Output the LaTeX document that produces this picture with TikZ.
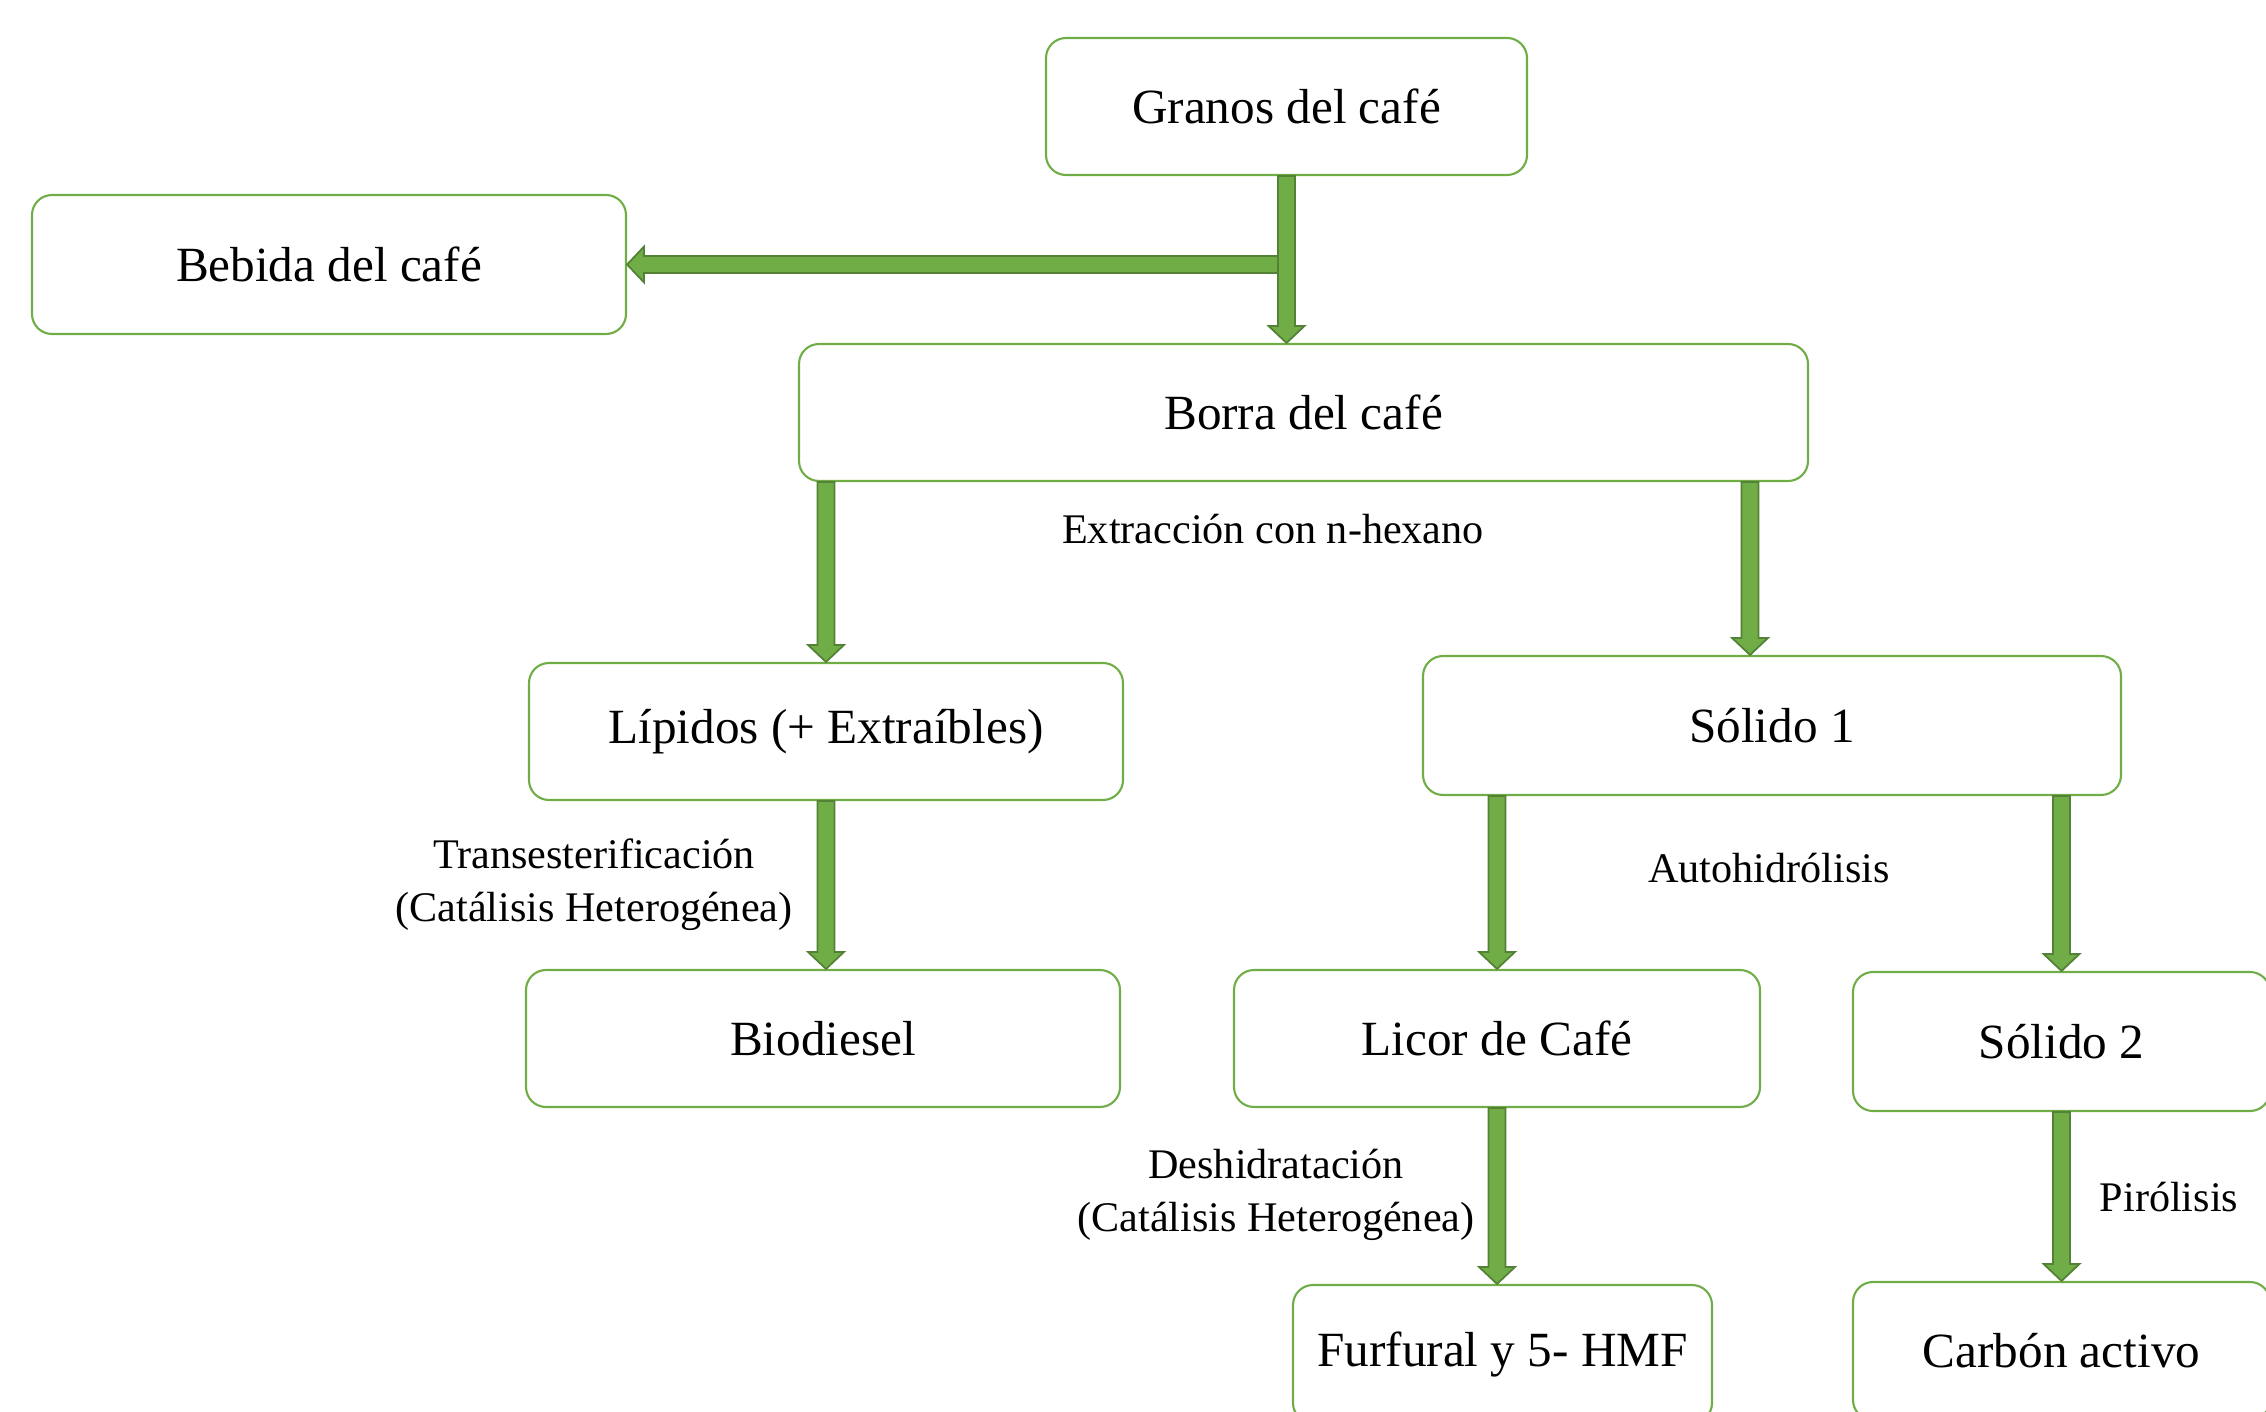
\documentclass[tikz,border=0pt]{standalone}
\usepackage{fontspec}
\setmainfont{Liberation Serif}
\usetikzlibrary{positioning, calc}

\definecolor{boxgreen}{HTML}{70AD47}
\definecolor{arrowgreen}{HTML}{70AD47}
\definecolor{arrowdark}{HTML}{538135}

\tikzset{
  box/.style={draw=boxgreen, line width=0.6pt, rounded corners=0.2cm,
    minimum height=1.37cm, inner sep=0pt, font=\fontsize{14}{17}\selectfont},
  lbl/.style={align=center, font=\fontsize{12}{15}\selectfont},
  blockarrow/.style={fill=arrowgreen, draw=arrowdark, line width=0.5pt,
    to path={
      ($(\tikztostart)!0.085cm!90:(\tikztotarget)$)
      -- ($($(\tikztotarget)!0.17cm!(\tikztostart)$)!0.085cm!-90:(\tikztostart)$)
      -- ($($(\tikztotarget)!0.17cm!(\tikztostart)$)!0.18cm!-90:(\tikztostart)$)
      -- (\tikztotarget)
      -- ($($(\tikztotarget)!0.17cm!(\tikztostart)$)!0.18cm!90:(\tikztostart)$)
      -- ($($(\tikztotarget)!0.17cm!(\tikztostart)$)!0.085cm!90:(\tikztostart)$)
      -- ($(\tikztostart)!0.085cm!-90:(\tikztotarget)$)
      -- cycle}}
}

\begin{document}
\begin{tikzpicture}
  \clip (0,0) rectangle (22.66,-14.12);

  % boxes
  \node[box, minimum width=4.81cm] (granos) at (12.865,-1.065) {Granos del café};
  \node[box, minimum width=5.94cm, minimum height=1.39cm] (bebida) at (3.29,-2.645) {Bebida del café};
  \node[box, minimum width=10.09cm] (borra) at (13.035,-4.125) {Borra del café};
  \node[box, minimum width=5.94cm] (lipidos) at (8.26,-7.315) {Lípidos (+ Extraíbles)};
  \node[box, minimum width=6.98cm, minimum height=1.39cm] (solido1) at (17.72,-7.255) {Sólido 1};
  \node[box, minimum width=5.94cm] (biodiesel) at (8.23,-10.385) {Biodiesel};
  \node[box, minimum width=5.26cm] (licor) at (14.97,-10.385) {Licor de Café};
  \node[box, minimum width=4.17cm, minimum height=1.39cm] (solido2) at (20.615,-10.415) {Sólido 2};
  \node[box, minimum width=4.19cm, minimum height=1.38cm] (furfural) at (15.025,-13.54) {Furfural y 5- HMF};
  \node[box, minimum width=4.17cm, minimum height=1.38cm] (carbon) at (20.615,-13.51) {Carbón activo};

  % labels
  \node[lbl] (extr) at (12.73,-5.29) {Extracción con n-hexano};
  \node[lbl] (trans) at (5.94,-8.85) {Transesterificación\\(Catálisis Heterogénea)};
  \node[lbl] (auto) at (17.69,-8.68) {Autohidrólisis};
  \node[lbl] (deshid) at (12.76,-11.95) {Deshidratación\\(Catálisis Heterogénea)};
  \node[lbl] (piro) at (21.69,-11.97) {Pirólisis};

  % arrows
  \coordinate (jct) at (granos.south |- bebida.east);
  \coordinate (s1in) at ([xshift=-0.22cm]solido1.north);
  \draw[blockarrow] (jct) to (bebida.east);
  \draw[blockarrow] (granos.south) to (granos.south |- borra.north);
  \draw[blockarrow] (lipidos.north |- borra.south) to (lipidos.north);
  \draw[blockarrow] (s1in |- borra.south) to (s1in);
  \draw[blockarrow] (lipidos.south) to (lipidos.south |- biodiesel.north);
  \draw[blockarrow] (licor.north |- solido1.south) to (licor.north);
  \draw[blockarrow] (solido2.north |- solido1.south) to (solido2.north);
  \draw[blockarrow] (licor.south) to (licor.south |- furfural.north);
  \draw[blockarrow] (solido2.south) to (carbon.north);
\end{tikzpicture}
\end{document}
